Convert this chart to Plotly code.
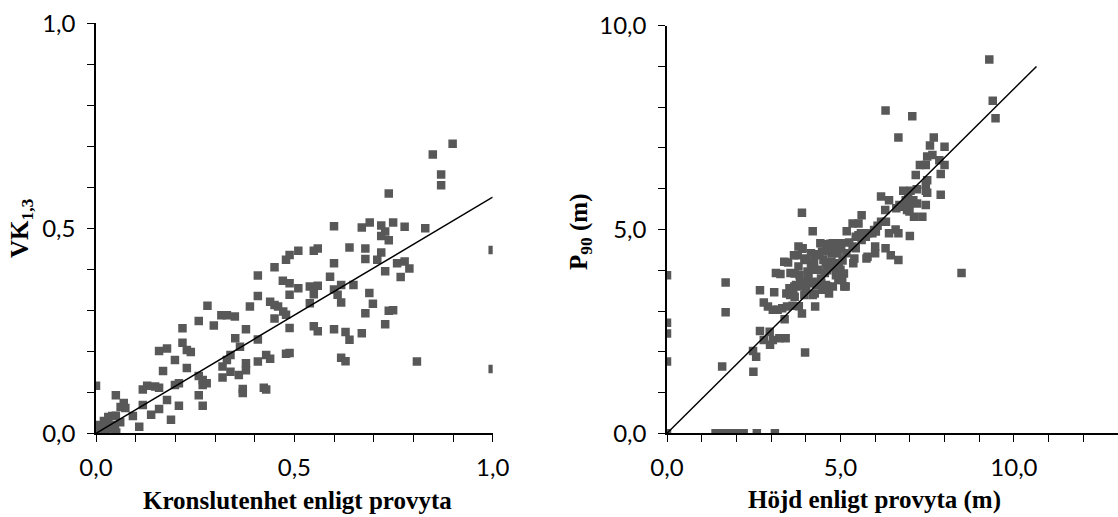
import plotly.graph_objects as go

# Left panel: crown closure from field plot vs. VK(1,3)
kron_x = [0.899, 0.849, 0.870, 0.870, 0.738, 0.600, 0.670, 0.690, 0.719, 0.749, 0.778, 0.830,
          0.719, 0.729, 0.738, 0.639, 0.679, 0.719, 0.679, 0.709, 0.600, 0.759, 0.778, 0.790,
          0.729, 0.768, 0.590, 0.618, 0.600, 0.649, 0.609, 0.689, 0.618, 0.698, 0.679, 0.738,
          0.749, 0.729, 0.600, 0.629, 0.639, 0.670, 0.618, 0.629, 0.809, 1.000, 1.000,
          0.510, 0.488, 0.479, 0.549, 0.559, 0.510, 0.539, 0.559, 0.549, 0.488, 0.471, 0.488,
          0.539, 0.472, 0.479, 0.488, 0.549, 0.559, 0.479, 0.488,
          0.450, 0.408, 0.408, 0.439, 0.450, 0.459, 0.388, 0.450, 0.378, 0.408, 0.351, 0.363,
          0.429, 0.439, 0.408, 0.378, 0.378, 0.360, 0.423, 0.429, 0.370, 0.370,
          0.281, 0.259, 0.297, 0.316, 0.330, 0.350, 0.218, 0.218, 0.229, 0.239, 0.159, 0.179,
          0.199, 0.229, 0.169, 0.319, 0.339, 0.330, 0.319, 0.339, 0.259, 0.269, 0.269, 0.279,
          0.259, 0.269, 0.209, 0.199, 0.209, 0.179, 0.189, 0.159, 0.149, 0.129, 0.118, 0.139,
          0.159, 0.118, 0.109,
          0.000, 0.050, 0.070, 0.062, 0.074, 0.093, 0.031, 0.041, 0.050, 0.020, 0.008, 0.008,
          0.020, 0.032, 0.025, 0.000, 0.048, 0.051, 0.061, 0.015, 0.040]
vk13 = [0.706, 0.680, 0.631, 0.605, 0.585, 0.505, 0.502, 0.514, 0.507, 0.514, 0.504, 0.500,
        0.481, 0.492, 0.471, 0.453, 0.451, 0.441, 0.425, 0.423, 0.415, 0.415, 0.419, 0.402,
        0.395, 0.381, 0.382, 0.362, 0.351, 0.362, 0.338, 0.342, 0.319, 0.316, 0.293, 0.299,
        0.300, 0.266, 0.254, 0.247, 0.228, 0.244, 0.184, 0.176, 0.175, 0.447, 0.157,
        0.445, 0.435, 0.423, 0.445, 0.451, 0.354, 0.358, 0.360, 0.339, 0.338, 0.372, 0.366,
        0.317, 0.297, 0.289, 0.257, 0.261, 0.249, 0.194, 0.196,
        0.405, 0.385, 0.335, 0.321, 0.313, 0.309, 0.309, 0.280, 0.254, 0.229, 0.232, 0.211,
        0.191, 0.182, 0.175, 0.171, 0.154, 0.142, 0.111, 0.107, 0.108, 0.098,
        0.311, 0.274, 0.263, 0.288, 0.288, 0.285, 0.256, 0.221, 0.203, 0.198, 0.201, 0.207,
        0.179, 0.159, 0.152, 0.163, 0.191, 0.179, 0.136, 0.150, 0.140, 0.130, 0.118, 0.122,
        0.093, 0.067, 0.122, 0.118, 0.067, 0.081, 0.033, 0.111, 0.114, 0.116, 0.107, 0.045,
        0.059, 0.069, 0.016,
        0.116, 0.093, 0.074, 0.064, 0.062, 0.042, 0.040, 0.042, 0.043, 0.030, 0.020, 0.005,
        0.005, 0.012, 0.000, 0.002, 0.008, 0.002, 0.027, 0.014, 0.020]
kron_fit_x = [0.0, 1.0]
kron_fit_y = [0.0, 0.576]

# Right panel: tree height from field plot vs. P90 of laser returns
hojd = [0.00, 0.00, 0.00, 0.00, 0.00,
        1.40, 1.52, 1.62, 1.72, 1.85, 1.97, 2.08, 2.21, 2.59, 3.11,
        1.59, 1.69, 1.69, 2.49, 2.48, 2.57, 2.68, 2.96, 2.79, 2.97, 3.05, 3.24, 3.42, 3.98, 3.39, 3.89,
        2.68, 3.09, 2.79, 2.91, 3.05, 3.19, 3.32, 3.46, 3.62, 3.80, 4.27,
        3.27, 3.49, 3.68, 3.82, 3.89, 3.77, 4.00, 4.17, 4.08, 4.08, 3.90, 3.72, 3.53, 3.67, 3.44,
        3.60, 3.64, 3.55, 3.68, 3.96, 4.20,
        4.26, 4.39, 4.62, 4.71, 4.76, 4.44, 4.62, 4.67, 4.26, 4.44, 4.30, 4.58, 4.49,
        5.02, 5.06, 5.10, 5.15, 4.89, 4.94, 5.11,
        3.89, 4.20, 3.91, 4.30, 4.58, 4.68, 4.15, 3.96, 4.58, 4.73, 4.87, 4.95, 5.00, 4.05, 4.20,
        4.05, 4.20, 4.95, 5.05, 3.84, 4.01, 3.38, 3.14, 3.56, 4.42, 4.47, 4.51, 4.37, 4.55, 4.15,
        4.24, 3.79, 3.66, 3.79,
        5.01, 5.25, 4.95, 5.18, 5.59, 5.44, 5.73, 5.17, 5.40, 5.37, 5.52, 5.61, 5.35, 5.44, 5.75,
        4.78, 4.78, 4.92, 4.74, 4.83, 4.87, 4.78, 5.35, 5.52, 5.61,
        6.07, 5.97, 5.92, 6.00, 6.00, 5.78, 6.30, 6.45, 6.67, 6.59, 6.40, 6.67, 7.00, 6.31, 6.17,
        6.02, 5.80,
        6.17, 6.40, 6.29, 6.61, 6.78, 6.92, 6.81, 7.02, 7.20, 7.46, 7.50, 7.89, 6.88, 7.10, 6.95,
        6.70, 6.99, 7.21, 7.46, 6.99, 7.12, 7.36,
        7.17, 7.89, 7.50, 7.46, 7.29, 7.46, 7.85, 8.00, 7.65, 7.50, 7.58, 8.00, 7.69, 6.67, 6.30,
        7.07, 9.29, 9.39, 9.47, 8.49]
p90 = [0.00, 3.88, 2.71, 2.45, 1.76,
       0.00, 0.00, 0.00, 0.00, 0.00, 0.00, 0.00, 0.00, 0.00, 0.00,
       1.64, 3.70, 2.97, 1.51, 2.02, 1.88, 2.51, 2.49, 2.29, 2.17, 2.29, 2.33, 2.33, 1.98, 2.80, 2.94,
       3.51, 3.46, 3.21, 3.11, 3.03, 3.03, 3.07, 3.11, 3.13, 3.12, 3.11,
       3.91, 4.19, 3.92, 3.88, 4.53, 4.37, 4.29, 4.08, 3.92, 3.68, 3.60, 3.64, 3.56, 3.60, 3.43,
       3.42, 3.51, 3.39, 3.35, 3.39, 3.39,
       4.39, 4.39, 4.00, 4.65, 4.41, 3.68, 3.60, 3.43, 3.43, 3.80, 3.64, 3.64, 3.52,
       4.57, 4.24, 3.92, 3.60, 3.96, 3.76, 3.60,
       5.41, 4.96, 4.54, 4.37, 4.64, 4.46, 4.17, 4.25, 4.17, 4.09, 4.05, 4.17, 4.01, 3.97, 4.01,
       3.76, 3.72, 3.88, 3.76, 3.68, 3.56, 4.21, 3.93, 3.93, 4.66, 4.46, 4.25, 4.01, 3.93, 4.42,
       4.21, 4.58, 4.37, 4.09,
       4.66, 4.68, 4.54, 4.96, 4.91, 4.82, 4.82, 4.42, 4.29, 4.17, 4.86, 4.74, 4.58, 4.54, 4.29,
       4.66, 4.50, 4.42, 4.21, 4.09, 3.88, 3.60, 5.15, 5.15, 5.35,
       5.09, 4.99, 4.91, 4.58, 4.42, 4.33, 4.54, 4.37, 4.25, 5.00, 4.91, 4.91, 4.84, 5.19, 5.19,
       4.95, 4.91,
       5.81, 5.72, 5.48, 5.52, 5.56, 5.48, 5.95, 5.95, 5.99, 5.95, 5.90, 5.85, 5.72, 5.72, 5.81,
       5.60, 5.63, 5.64, 5.60, 5.44, 5.31, 5.31,
       6.34, 6.36, 6.21, 6.09, 6.58, 6.58, 6.70, 6.58, 6.83, 6.79, 7.06, 7.03, 7.26, 7.26, 7.92,
       7.78, 9.17, 8.16, 7.73, 3.93]
hojd_fit_x = [0.0, 10.65]
hojd_fit_y = [0.0, 9.0]

# Axis tick values
left_ticks = [0.0, 0.5, 1.0]
right_ticks = [0.0, 5.0, 10.0]

W, H = 1118, 517
MARKER = dict(symbol="square", size=8.5, color="#585858", line=dict(width=0))
LINE = dict(color="black", width=1.5)
TICKFONT = dict(family="Lato, Carlito, sans-serif", size=24, color="black")
TITLEFONT = dict(family="Liberation Serif, Times New Roman, serif", size=25, color="black",
                 weight="bold")

fig = go.Figure()
fig.add_trace(go.Scatter(x=kron_x, y=vk13, mode="markers", marker=MARKER,
                         xaxis="x", yaxis="y", showlegend=False))
fig.add_trace(go.Scatter(x=kron_fit_x, y=kron_fit_y, mode="lines", line=LINE,
                         xaxis="x", yaxis="y", showlegend=False))
fig.add_trace(go.Scatter(x=hojd, y=p90, mode="markers", marker=MARKER,
                         xaxis="x2", yaxis="y2", showlegend=False))
fig.add_trace(go.Scatter(x=hojd_fit_x, y=hojd_fit_y, mode="lines", line=LINE,
                         xaxis="x2", yaxis="y2", showlegend=False))


def axis(rng, dom, ticks, minor, anchor, standoff):
    return dict(
        range=rng, domain=dom, anchor=anchor, automargin=False,
        tickmode="array", tickvals=ticks, tickformat=".1f",
        ticks="outside", ticklen=7, tickwidth=1.3, tickcolor="black",
        minor=dict(dtick=minor, ticks="outside", ticklen=7, tickwidth=1.3, tickcolor="black"),
        showline=True, linecolor="black", linewidth=1.5,
        showgrid=False, zeroline=False, tickfont=TICKFONT,
        ticklabelstandoff=standoff,
    )


fig.update_layout(
    width=W, height=H,
    margin=dict(l=0, r=0, t=0, b=0, autoexpand=False),
    paper_bgcolor="white", plot_bgcolor="white",
    separators=", ",
    xaxis=axis([0, 1.0], [96 / W, 492.7 / W], left_ticks, 0.1, "y", 5),
    yaxis=axis([0, 1.0], [1 - 433.3 / H, 1 - 23.3 / H], left_ticks, 0.1, "x", 7),
    xaxis2=axis([0, 13], [667 / W, 1.0], right_ticks, 1, "y2", 5),
    yaxis2=axis([0, 10], [1 - 433.3 / H, 1 - 25.7 / H], right_ticks, 1, "x2", 7),
)

# Axis titles, positioned in pixels
titles = [
    ("Kronslutenhet enligt provyta", 297, 500, 0),
    ("VK<sub>1,3</sub>", 21, 228, -90),
    ("Höjd enligt provyta (m)", 874, 500, 0),
    ("P<sub>90</sub> (m)", 580, 232, -90),
]
for text, px, py, angle in titles:
    fig.add_annotation(text=text, x=px / W, y=1 - py / H, xref="paper", yref="paper",
                       xanchor="center", yanchor="middle", textangle=angle,
                       showarrow=False, font=TITLEFONT)

fig.write_html("out.html")
